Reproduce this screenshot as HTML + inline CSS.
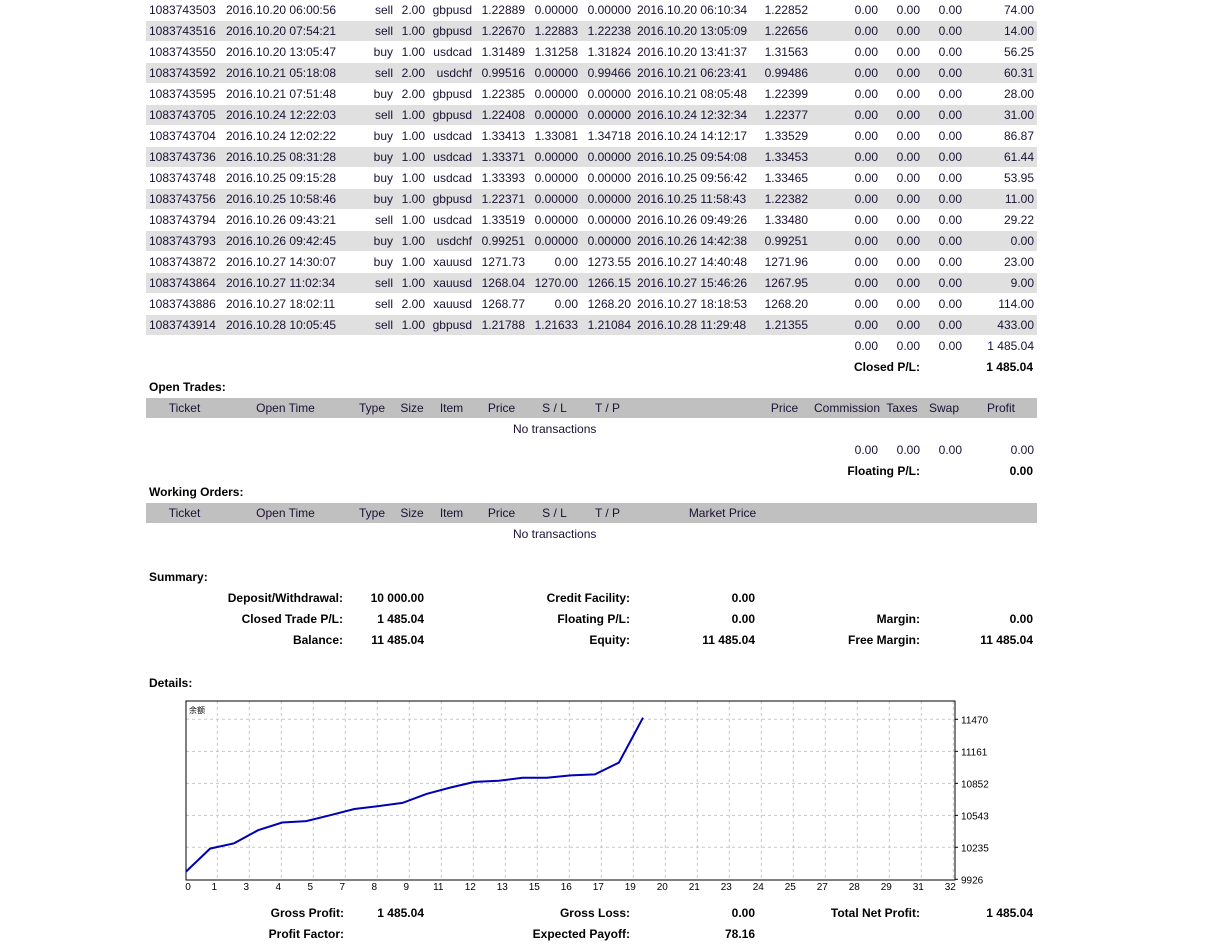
<!DOCTYPE html>
<html><head><meta charset="utf-8"><style>
body{margin:0;width:1231px;height:946px;background:#fff;position:relative;overflow:hidden;font-family:"Liberation Sans","Noto Sans CJK SC",sans-serif;font-size:12px;color:#1a1033}
.c{position:absolute;height:20px;line-height:20px;box-sizing:border-box;padding:0 3px;white-space:nowrap}
.g{background:#e0e0e0}.h{background:#c0c0c0;text-align:center}
.r{text-align:right}.b{font-weight:bold;color:#000}
.t{position:absolute;white-space:nowrap;line-height:20px;height:20px}
</style></head><body>
<div id="root"></div>
<svg id="chart" style="position:absolute;left:0;top:0" width="1231" height="946"></svg>
<script>
var root=document.getElementById('root');
// column edges [left,right,align]
var cols=[[146,222,'l'],[223,347,'l'],[348,395,'r'],[396,427,'r'],[428,474,'r'],[475,527,'r'],[528,580,'r'],[581,633,'r'],[634,757,'l'],[758,810,'r'],[811,880,'r'],[881,922,'r'],[923,964,'r'],[965,1036,'r']];
var tickets=['1083743503','1083743516','1083743550','1083743592','1083743595','1083743705','1083743704','1083743736','1083743748','1083743756','1083743794','1083743793','1083743872','1083743864','1083743886','1083743914'];
var openTimes=['2016.10.20 06:00:56','2016.10.20 07:54:21','2016.10.20 13:05:47','2016.10.21 05:18:08','2016.10.21 07:51:48','2016.10.24 12:22:03','2016.10.24 12:02:22','2016.10.25 08:31:28','2016.10.25 09:15:28','2016.10.25 10:58:46','2016.10.26 09:43:21','2016.10.26 09:42:45','2016.10.27 14:30:07','2016.10.27 11:02:34','2016.10.27 18:02:11','2016.10.28 10:05:45'];
var types=['sell','sell','buy','sell','buy','sell','buy','buy','buy','buy','sell','buy','buy','sell','sell','sell'];
var sizes=['2.00','1.00','1.00','2.00','2.00','1.00','1.00','1.00','1.00','1.00','1.00','1.00','1.00','1.00','2.00','1.00'];
var items=['gbpusd','gbpusd','usdcad','usdchf','gbpusd','gbpusd','usdcad','usdcad','usdcad','gbpusd','usdcad','usdchf','xauusd','xauusd','xauusd','gbpusd'];
var prices=['1.22889','1.22670','1.31489','0.99516','1.22385','1.22408','1.33413','1.33371','1.33393','1.22371','1.33519','0.99251','1271.73','1268.04','1268.77','1.21788'];
var sls=['0.00000','1.22883','1.31258','0.00000','0.00000','0.00000','1.33081','0.00000','0.00000','0.00000','0.00000','0.00000','0.00','1270.00','0.00','1.21633'];
var tps=['0.00000','1.22238','1.31824','0.99466','0.00000','0.00000','1.34718','0.00000','0.00000','0.00000','0.00000','0.00000','1273.55','1266.15','1268.20','1.21084'];
var closeTimes=['2016.10.20 06:10:34','2016.10.20 13:05:09','2016.10.20 13:41:37','2016.10.21 06:23:41','2016.10.21 08:05:48','2016.10.24 12:32:34','2016.10.24 14:12:17','2016.10.25 09:54:08','2016.10.25 09:56:42','2016.10.25 11:58:43','2016.10.26 09:49:26','2016.10.26 14:42:38','2016.10.27 14:40:48','2016.10.27 15:46:26','2016.10.27 18:18:53','2016.10.28 11:29:48'];
var closePrices=['1.22852','1.22656','1.31563','0.99486','1.22399','1.22377','1.33529','1.33453','1.33465','1.22382','1.33480','0.99251','1271.96','1267.95','1268.20','1.21355'];
var profits=['74.00','14.00','56.25','60.31','28.00','31.00','86.87','61.44','53.95','11.00','29.22','0.00','23.00','9.00','114.00','433.00'];

function cell(x1,x2,y,txt,cls){
  var d=document.createElement('div');
  d.className='c '+(cls||'');
  d.style.left=x1+'px';d.style.top=y+'px';d.style.width=(x2-x1+1)+'px';
  d.textContent=txt;
  root.appendChild(d);
  return d;
}
function text(x,y,txt,right,bold){
  var d=document.createElement('div');
  d.className='t'+(bold?' b':'');
  if(right){d.style.right=(1231-x)+'px';}else{d.style.left=x+'px';}
  d.style.top=y+'px';d.textContent=txt;
  root.appendChild(d);
  return d;
}
for(var i=0;i<tickets.length;i++){
  var vals=[tickets[i],openTimes[i],types[i],sizes[i],items[i],prices[i],sls[i],tps[i],closeTimes[i],closePrices[i],'0.00','0.00','0.00',profits[i]];
  for(var j=0;j<cols.length;j++){
    var grey=(i%2==1)&&!(j==9&&false);
    var c=cell(cols[j][0],cols[j][1],21*i,vals[j],(grey?'g ':'')+(cols[j][2]=='r'?'r':''));
    
    
  }
}
var tot=[[811,880,'0.00'],[881,922,'0.00'],[923,964,'0.00'],[965,1036,'1 485.04']];
tot.forEach(function(t){var c=cell(t[0],t[1],336,t[2],'r');

});
var e;
e=text(920,357,'Closed P/L:',true,true);


e=text(1033,357,'1 485.04',true,true);



function header(y,names,edges){
  for(var k=0;k<names.length;k++){
    var c=cell(edges[k][0],edges[k][1],y,names[k],'h');
    
    
  }
}
e=text(149,377,'Open Trades:',false,true);


header(398,['Ticket','Open Time','Type','Size','Item','Price','S / L','T / P','','Price','Commission','Taxes','Swap','Profit'],cols);
e=text(513,419,'No transactions',false,false);


tot=[[811,880,'0.00'],[881,922,'0.00'],[923,964,'0.00'],[965,1036,'0.00']];
tot.forEach(function(t){var c=cell(t[0],t[1],440,t[2],'r');

});
e=text(920,461,'Floating P/L:',true,true);


e=text(1033,461,'0.00',true,true);



e=text(149,482,'Working Orders:',false,true);


var wcols=cols.slice(0,8).concat([[634,810],[811,1036]]);
header(503,['Ticket','Open Time','Type','Size','Item','Price','S / L','T / P','Market Price',''],wcols);
e=text(513,524,'No transactions',false,false);



e=text(149,567,'Summary:',false,true);


var sumL=[[343,588,'Deposit/Withdrawal:'],[343,609,'Closed Trade P/L:'],[343,630,'Balance:'],[630,588,'Credit Facility:'],[630,609,'Floating P/L:'],[630,630,'Equity:'],[920,609,'Margin:'],[920,630,'Free Margin:']];
sumL.forEach(function(s){var d=text(s[0],s[1],s[2],true,true);

});
var sumV=[[424,588,'10 000.00'],[424,609,'1 485.04'],[424,630,'11 485.04'],[755,588,'0.00'],[755,609,'0.00'],[755,630,'11 485.04'],[1033,609,'0.00'],[1033,630,'11 485.04']];
sumV.forEach(function(s){var d=text(s[0],s[1],s[2],true,true);

});
e=text(149,673,'Details:',false,true);


var detL=[[344,903,'Gross Profit:'],[344,924,'Profit Factor:'],[630,903,'Gross Loss:'],[630,924,'Expected Payoff:'],[920,903,'Total Net Profit:']];
detL.forEach(function(s){var d=text(s[0],s[1],s[2],true,true);

});
var detV=[[424,903,'1 485.04'],[755,903,'0.00'],[755,924,'78.16'],[1033,903,'1 485.04']];
detV.forEach(function(s){var d=text(s[0],s[1],s[2],true,true);

});
</script>
<script>
// chart data
var balances=[10000,10222,10273,10400,10474,10488,10544.25,10604.56,10632.56,10663.56,10750.43,10811.87,10865.82,10876.82,10906.04,10906.04,10929.04,10938.04,11052.04,11485.04];
var yTicks=[9926,10235,10543,10852,11161,11470];
var xLabels=['0','1','3','4','5','7','8','9','11','12','13','15','16','17','19','20','21','23','24','25','27','28','29','31','32'];
var NS='http://www.w3.org/2000/svg';
var svg=document.getElementById('chart');
var L=186,T=701,R=955,B=880;
var yMin=9926,yMax=11470;
function sy(v){return 879.3-(v-yMin)*(879.3-719.3)/(yMax-yMin);}
function sx(i){return L+i*24.05;}
function mk(tag,a){var el=document.createElementNS(NS,tag);for(var k in a)el.setAttribute(k,a[k]);svg.appendChild(el);return el;}
var g;
for(var k=0;k<24;k++){
  var gx=217.3+32*k;
  g=mk('line',{x1:gx,x2:gx,y1:T,y2:B,stroke:'#c8c8c8','stroke-dasharray':'3,3'});
  
  
}
yTicks.forEach(function(v,i){
  var y=sy(v);
  if(i>0){
    g=mk('line',{x1:L,x2:R,y1:y,y2:y,stroke:'#c8c8c8','stroke-dasharray':'3,3'});
    
    
  }
  g=mk('line',{x1:R,x2:R+3,y1:y,y2:y,stroke:'#000'});
  
  
  var t=mk('text',{x:961,y:y+4,'font-size':'10','font-family':'Liberation Sans, sans-serif',fill:'#000'});
  t.textContent=v;
  
  
});
xLabels.forEach(function(lb,i){
  var x=i==0?188:217.3+32*(i-1)-3;
  var t=mk('text',{x:x,y:890,'font-size':'10','font-family':'Liberation Sans, sans-serif','text-anchor':'middle',fill:'#000'});
  t.textContent=lb;
  
  
});
g=mk('rect',{x:L,y:T,width:R-L,height:B-T,fill:'none',stroke:'#000','stroke-width':1});


var pts=balances.map(function(v,i){return sx(i).toFixed(1)+','+sy(v).toFixed(1);}).join(' ');
g=mk('polyline',{points:pts,fill:'none',stroke:'#0000b4','stroke-width':2});


var tt=mk('text',{x:189,y:713,'font-size':'8','font-family':'Noto Sans CJK SC, sans-serif',fill:'#000'});
tt.textContent='余额';


</script>
</body></html>
